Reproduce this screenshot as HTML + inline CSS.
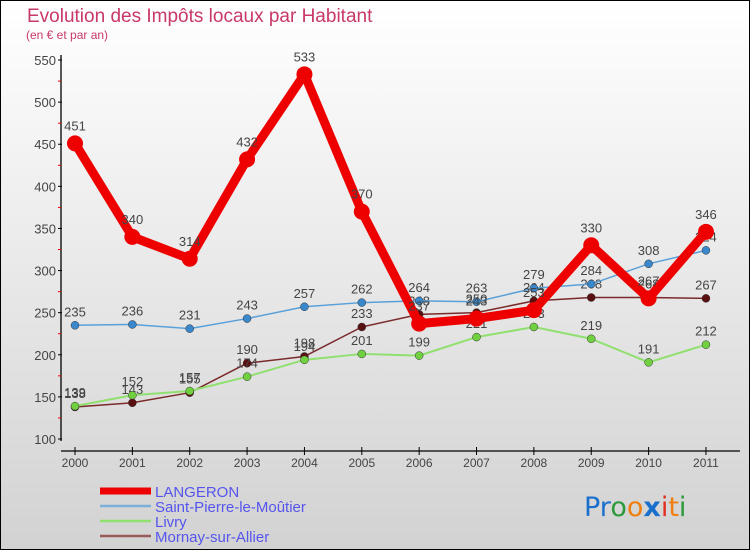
<!DOCTYPE html>
<html><head><meta charset="utf-8"><style>
html,body{margin:0;padding:0;}
body{width:750px;height:550px;overflow:hidden;font-family:"Liberation Sans",sans-serif;}
</style></head><body>
<svg id="chart" width="750" height="550" xmlns="http://www.w3.org/2000/svg">
<defs><linearGradient id="bg" x1="0" y1="0" x2="0" y2="1"><stop offset="0" stop-color="#ffffff"/><stop offset="1" stop-color="#d2d2d2"/></linearGradient></defs>
<rect x="0.5" y="0.5" width="749" height="549" fill="url(#bg)" stroke="#000" stroke-width="1"/>
<text x="27" y="22" font-size="19" fill="#c8386a">Evolution des Impôts locaux par Habitant</text>
<text x="26" y="39" font-size="12" fill="#c8386a">(en € et par an)</text>
<g id="axes"></g><g id="series"></g><g id="legend"></g>
<text x="584" y="516" font-size="27" font-family="'DejaVu Sans',sans-serif"><tspan fill="#1a6fcc">Pr</tspan><tspan fill="#2a9a3a">o</tspan><tspan fill="#f07f10">o</tspan><tspan fill="#1a6fcc" font-weight="bold">x</tspan><tspan fill="#e03020">i</tspan><tspan fill="#f07f10">t</tspan><tspan fill="#2a9a3a">i</tspan></text>
</svg>
<script>
const years=["2000","2001","2002","2003","2004","2005","2006","2007","2008","2009","2010","2011"];
const yTicks=[100,150,200,250,300,350,400,450,500,550];
const langeron=[451,340,314,432,533,370,237,243,253,330,267,346];
const saintPierre=[235,236,231,243,257,262,264,263,279,284,308,324];
const livry=[139,152,157,174,194,201,199,221,233,219,191,212];
const mornay=[138,143,155,190,198,233,248,250,264,268,268,267];
const names=["LANGERON","Saint-Pierre-le-Moûtier","Livry","Mornay-sur-Allier"];
const NS="http://www.w3.org/2000/svg";
function xs(i){return 75+i*57.36;}
function ys(v){return 439-(v-100)*0.8422;}
function mk(tag,attrs,parent,text){const e=document.createElementNS(NS,tag);for(const k in attrs)e.setAttribute(k,attrs[k]);if(text!==undefined)e.textContent=text;parent.appendChild(e);return e;}
const ax=document.getElementById('axes');
let yl=mk('line',{x1:61,y1:55,x2:61,y2:441,stroke:'#000','stroke-width':1.3},ax);


let xl=mk('line',{x1:61,y1:451,x2:740,y2:451,stroke:'#000','stroke-width':1.3},ax);


yTicks.forEach((v,i)=>{const y=ys(v);
 mk('line',{x1:58,y1:y,x2:62,y2:y,stroke:'#000'},ax);
 if(i<yTicks.length-1)mk('line',{x1:58,y1:ys(v+25),x2:61,y2:ys(v+25),stroke:'#e00'},ax);
 const t=mk('text',{x:56,y:y+5,'font-size':13,fill:'#444','text-anchor':'end'},ax,v);
 
 
});
years.forEach((yr,i)=>{const x=xs(i);
 mk('line',{x1:x,y1:447,x2:x,y2:455,stroke:'#000'},ax);
 const t=mk('text',{x:x,y:467,'font-size':12,fill:'#444','text-anchor':'middle'},ax,yr);
 
 
});
const sg=document.getElementById('series');
const series=[
 {d:mornay,c:'#7a2a2a',f:'#5a1010',w:1.5,r:4,n:'mornay'},
 {d:livry,c:'#90e070',f:'#70d040',w:2,r:4,n:'livry'},
 {d:saintPierre,c:'#5aa0d8',f:'#3a88cc',w:1.5,r:4,n:'saint-pierre'},
 {d:langeron,c:'#ee0000',f:'#ee0000',w:9,r:8,n:'langeron'}];
series.forEach(s=>{
 const g=mk('g',{},sg);
 
 
 const pl=mk('polyline',{points:s.d.map((v,i)=>xs(i)+','+ys(v)).join(' '),fill:'none',stroke:s.c,'stroke-width':s.w,'stroke-linejoin':'round'},g);
 
 
 s.d.forEach((v,i)=>{
  const c=mk('circle',{cx:xs(i),cy:ys(v),r:s.r,fill:s.f,stroke:s.n==='langeron'?'none':'#333','stroke-width':0.5},g);
  
  
  const t=mk('text',{x:xs(i),y:ys(v)-(s.n==='langeron'?13:9),'font-size':13,fill:'#444','text-anchor':'middle'},g,v);
  
  
 });
});
const lg=document.getElementById('legend');
const lc=['#ee0000','#7ab0d8','#90e070','#9a5a5a'];const lw=[7,2.5,2.5,2.5];
names.forEach((n,i)=>{const y=491+i*15;
 const l=mk('line',{x1:100,y1:y,x2:151,y2:y,stroke:lc[i],'stroke-width':lw[i]},lg);
 
 
 const t=mk('text',{x:155,y:y+6,'font-size':15,fill:'#5555ee'},lg,n);
 
 
});
</script>
</body></html>
